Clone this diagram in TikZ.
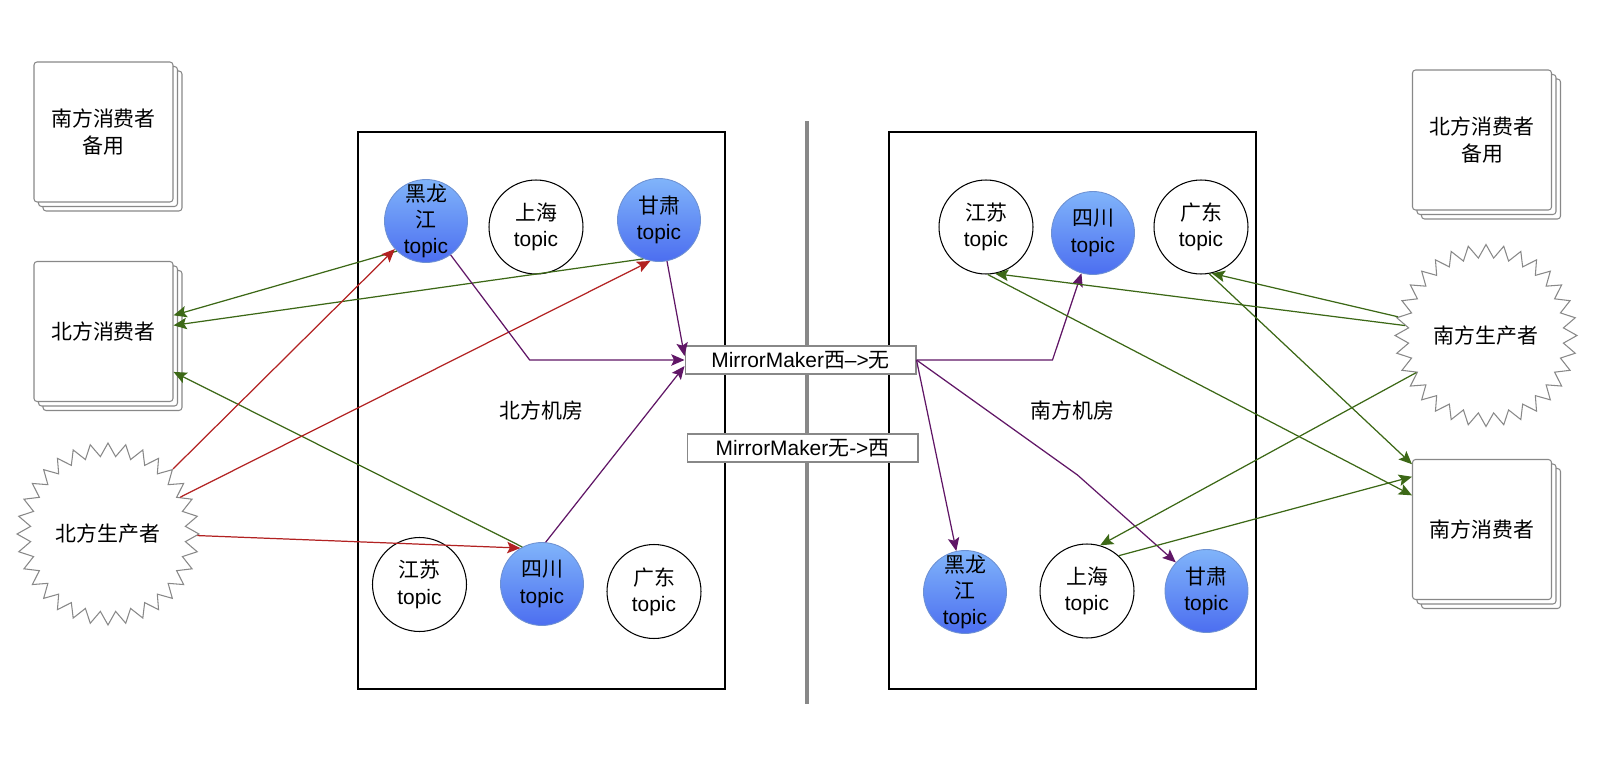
\documentclass[tikz,border=0pt]{standalone}
\usepackage{fontspec}
\setmainfont{Liberation Sans}
\newfontfamily\cjk{Noto Sans CJK SC}
\XeTeXinterchartokenstate=1
\newXeTeXintercharclass\cjkclass
\count255="4E00
\loop
  \XeTeXcharclass\count255=\cjkclass
  \advance\count255 by 1
\ifnum\count255<"A000 \repeat
\XeTeXinterchartoks 0 \cjkclass = {\cjk}
\XeTeXinterchartoks 4095 \cjkclass = {\cjk}
\XeTeXinterchartoks \cjkclass 0 = {\rmfamily}
\usetikzlibrary{arrows.meta,shapes.geometric,shadows}
\definecolor{stk}{RGB}{136,136,136}
\definecolor{hotA}{RGB}{128,180,250}
\definecolor{hotB}{RGB}{76,110,240}
\definecolor{hotline}{RGB}{110,145,210}
\definecolor{grn}{RGB}{60,104,22}
\definecolor{rd}{RGB}{178,34,34}
\definecolor{pur}{RGB}{96,22,102}

\begin{document}
\begin{tikzpicture}[x=0.02cm, y=-0.02cm, >={Stealth[length=7.5pt,width=6.5pt,inset=1.5pt]},
  every node/.style={font=\fontsize{11.9}{15}\selectfont, align=center},
  stack/.style={draw=stk, fill=white, line width=0.6pt, rounded corners=0.06cm,
    minimum width=2.78cm, minimum height=2.8cm,
    copy shadow={shadow xshift=0.18cm, shadow yshift=-0.18cm, draw=stk, line width=0.6pt},
    copy shadow={shadow xshift=0.09cm, shadow yshift=-0.09cm, draw=stk, line width=0.6pt}},
  burst/.style={star, star points=32, star point ratio=1.17, minimum size=3.64cm,
    draw=stk, fill=white, line width=0.6pt, inner sep=0pt},
  room/.style={draw, line width=0.7pt, minimum width=7.34cm, minimum height=11.14cm},
  topic/.style={circle, draw, line width=0.6pt, minimum size=1.88cm, inner sep=0pt},
  hot/.style={circle, draw=hotline, line width=0.5pt, top color=hotA, bottom color=hotB,
    minimum size=1.66cm, inner sep=0pt},
  mm/.style={draw=stk, fill=white, line width=0.6pt, minimum width=4.62cm,
    minimum height=0.56cm, inner sep=0pt},
  gline/.style={->, draw=grn, line width=0.7pt},
  rline/.style={->, draw=rd, line width=0.7pt},
  pline/.style={->, draw=pur, line width=0.7pt}]
\useasboundingbox (0,0) rectangle (1614,774);
% west side
\node[stack] (bak1)  at (103.5,132)   {南方消费者\\备用};
\node[stack] (cons1) at (103.5,331.5) {北方消费者};
\node[burst] (prod1) at (108,534)     {北方生产者};
% rooms
\node[room] (room1) at (541.5,410.5)  {北方机房};
\node[room] (room2) at (1072.5,410.5) {南方机房};
\coordinate (top) at (807,121);
\coordinate (bot) at (807,704);
\draw[stk, line width=2pt] (top) -- (bot);
\node[mm] (mm1) at (800.5,360) {MirrorMaker西–>无};
\node[mm] (mm2) at (802.5,448) {MirrorMaker无->西};
\node[hot]   (hlj1) at (426,221)     [inner sep=-4pt] {黑龙\\江\\topic};
\node[topic] (sh1)  at (536,227)     {上海\\topic};
\node[hot]   (gs1)  at (659,220)     {甘肃\\topic};
\node[topic] (js1)  at (419.5,584.5) {江苏\\topic};
\node[hot]   (sc1)  at (542,584)     {四川\\topic};
\node[topic] (gd1)  at (654,591.5)   {广东\\topic};
\node[topic] (js2)  at (986,227)     {江苏\\topic};
\node[hot]   (sc2)  at (1093,233)    {四川\\topic};
\node[topic] (gd2)  at (1201,227)    {广东\\topic};
\node[hot]   (hlj2) at (965,592)     [inner sep=-4pt] {黑龙\\江\\topic};
\node[topic] (sh2)  at (1087,591)    {上海\\topic};
\node[hot]   (gs2)  at (1206.5,591)  {甘肃\\topic};
% east side
\node[stack] (bak2)  at (1482,140)   {北方消费者\\备用};
\node[burst] (prod2) at (1486,335.5) {南方生产者};
\node[stack] (cons2) at (1482,529.5) {南方消费者};
% north traffic
\path (hlj1.226) edge[gline] (cons1.13)
  (gs1.248) edge[gline] (cons1.5)
  (sc1.118) edge[gline] (cons1.-30);
\path (prod1.45) edge[rline] (hlj1.222)
  (prod1.27) edge[rline] (gs1.258)
  (prod1.-1) edge[rline] (sc1.121);
\draw[pline] (hlj1.-54) -- ++(79,105) -- (mm1.west);
\path (gs1.-79) edge[pline] (mm1.178)
  (sc1.85) edge[pline] (mm1.183);
% mirror to south
\draw[pline] (mm1.east) -- ++(136,0) -- (sc2.254);
\draw[pline] (mm1.east) -- (hlj2.102);
\draw[pline] (mm1.east) -- ++(161,115) -- (gs2.137);
% south traffic
\path (prod2.173) edge[gline] (js2.-79)
  (prod2.168) edge[gline] (gd2.-77)
  (prod2.208) edge[gline] (sh2.74)
  (js2.-88) edge[gline] (cons2.154)
  (gd2.-80) edge[gline] (cons2.137)
  (sh2.48) edge[gline] (cons2.143);
\end{tikzpicture}
\end{document}
